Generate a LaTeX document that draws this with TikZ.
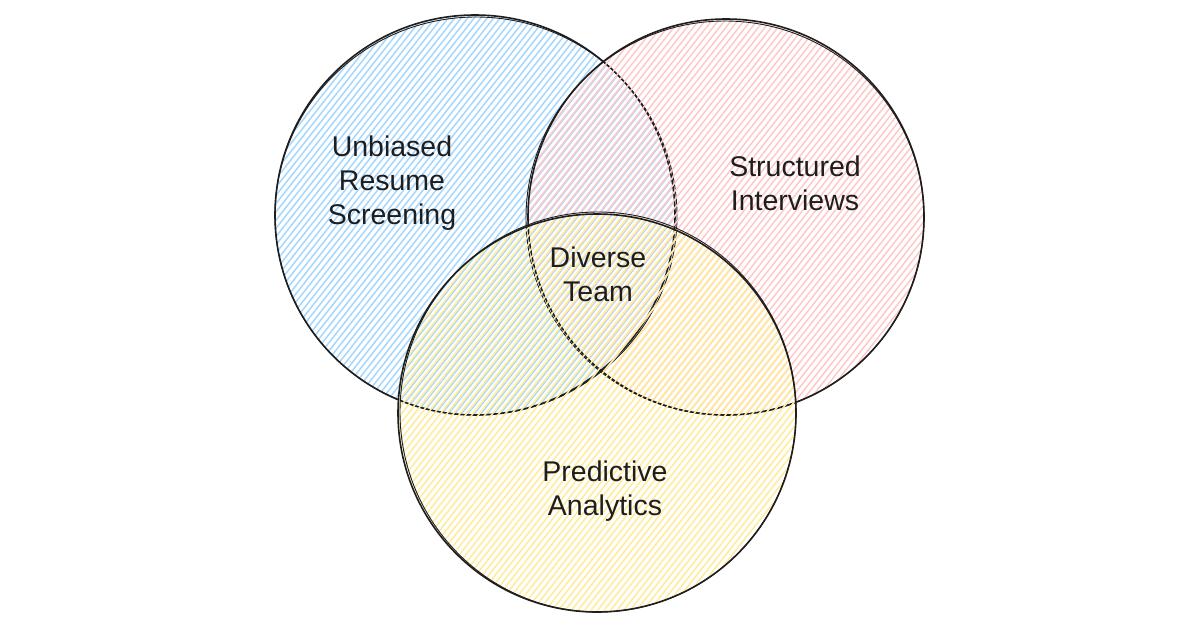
\documentclass[tikz,border=0pt]{standalone}
\usepackage{fontspec}
\setmainfont{Liberation Sans}
\definecolor{bluefill}{HTML}{A5D8FF}
\definecolor{pinkfill}{HTML}{FFC9C9}
\definecolor{yellowfill}{HTML}{FFEC99}
\definecolor{ink}{HTML}{1E1E1E}
\tikzset{
  hatchline/.style={line width=1.5pt},
  outline/.style={draw=ink, line width=1.6pt},
  outlinetwo/.style={draw=ink, line width=0.9pt},
  setcircle/.style={circle, minimum size=#1, inner sep=0pt, outline},
  vlabel/.style={font=\fontsize{28.5}{34}\selectfont, text=ink, align=center},
}
\newcommand\hatchdisc[4]{%
  \begin{scope}
    \clip (#1,#2) circle (#3pt);
    \foreach \k in {-44,...,44}
      \draw[hatchline,#4] (#1+\k*6.5-260,#2+330) -- (#1+\k*6.5+260,#2-330);
  \end{scope}}
\begin{document}
\begin{tikzpicture}[x=1pt,y=-1pt]
\useasboundingbox[fill=white] (0,0) rectangle (1200,627);
% blue
\hatchdisc{475}{215}{200}{bluefill}
\node[setcircle=400pt] (blue) at (475,215) {};
\draw[outlinetwo] (blue.center) ++(1,1) ellipse [x radius=201pt, y radius=199pt];
% pink
\hatchdisc{726}{217}{198}{pinkfill}
\node[setcircle=396pt] (pink) at (726,217) {};
\draw[outlinetwo] (pink.center) ++(-1,1) ellipse [x radius=199pt, y radius=197pt];
% yellow
\hatchdisc{597}{413}{199}{yellowfill}
\node[setcircle=398pt] (yellow) at (597,413) {};
\draw[outlinetwo] (yellow.center) ++(1,-1) ellipse [x radius=198pt, y radius=200pt];
% labels
\node[vlabel] (unbiased) at (392,183) {Unbiased\\Resume\\Screening};
\node[vlabel] (structured) at (795,183) {Structured\\Interviews};
\node[vlabel] (diverse) at (598,274) {Diverse\\Team};
\node[vlabel] (predictive) at (605,491) {Predictive\\Analytics};
\end{tikzpicture}
\end{document}
